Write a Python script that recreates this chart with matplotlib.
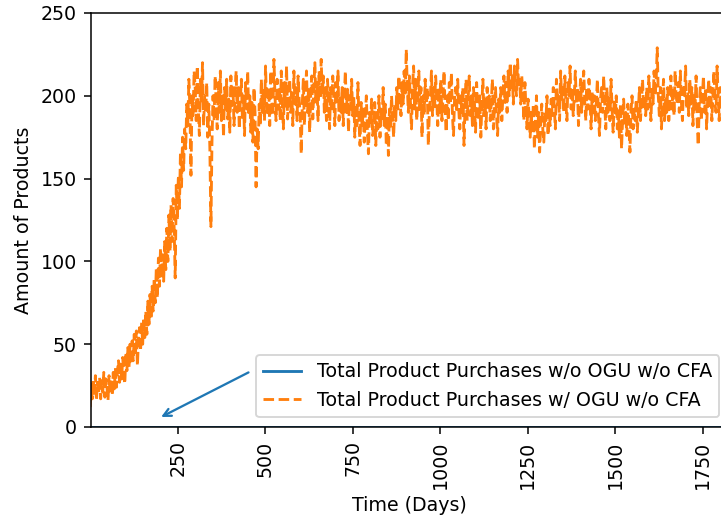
import numpy as np
import matplotlib
matplotlib.use("Agg")
import matplotlib.pyplot as plt

# purchases every 3 days (day 0 .. 1833)
with_ogu = [
    12, 26, 17, 29, 19, 31, 16, 27, 20, 30,
    17, 28, 21, 33, 18, 29, 24, 16, 31, 20,
    29, 19, 33, 23, 36, 24, 34, 40, 27, 38,
    29, 42, 32, 26, 45, 34, 48, 36, 50, 38,
    52, 40, 56, 43, 58, 37, 53, 60, 46, 63,
    50, 66, 54, 70, 56, 76, 62, 80, 65, 85,
    70, 90, 75, 96, 78, 102, 85, 108, 90, 104,
    88, 112, 95, 120, 100, 128, 106, 134, 112, 138,
    120, 90, 146, 125, 152, 132, 166, 145, 175, 155,
    180, 168, 195, 182, 210, 192, 152, 200, 188, 215,
    205, 185, 218, 192, 176, 210, 195, 220, 182, 200,
    190, 208, 175, 195, 168, 121, 172, 200, 185, 212,
    196, 180, 208, 190, 215, 185, 200, 175, 205, 192,
    210, 186, 198, 178, 212, 194, 205, 182, 200, 215,
    190, 205, 180, 198, 210, 185, 200, 176, 208, 192,
    215, 188, 200, 178, 196, 172, 205, 190, 145, 180,
    168, 195, 182, 210, 190, 205, 185, 218, 196, 188,
    205, 182, 215, 195, 188, 222, 200, 185, 210, 192,
    205, 185, 215, 196, 180, 208, 192, 218, 186, 200,
    210, 190, 202, 182, 215, 195, 205, 185, 212, 198,
    188, 165, 195, 210, 182, 200, 215, 190, 205, 178,
    200, 212, 186, 205, 220, 195, 208, 185, 215, 198,
    222, 200, 212, 190, 205, 185, 210, 196, 180, 205,
    190, 212, 198, 182, 208, 195, 215, 185, 200, 190,
    205, 182, 198, 215, 190, 204, 178, 200, 192, 210,
    188, 200, 175, 195, 182, 208, 185, 170, 196, 180,
    192, 172, 188, 200, 178, 165, 190, 182, 198, 176,
    185, 196, 170, 190, 180, 200, 175, 192, 185, 205,
    182, 195, 170, 188, 164, 192, 180, 200, 186, 175,
    195, 185, 205, 192, 212, 198, 188, 208, 195, 215,
    200, 228, 205, 190, 212, 196, 180, 205, 218, 192,
    210, 185, 198, 215, 190, 205, 175, 200, 188, 210,
    195, 205, 170, 190, 200, 215, 188, 205, 192, 212,
    198, 182, 205, 190, 210, 185, 200, 215, 192, 178,
    200, 185, 208, 195, 214, 188, 176, 198, 205, 190,
    210, 192, 180, 200, 188, 205, 170, 195, 210, 185,
    198, 212, 188, 200, 182, 205, 195, 178, 208, 192,
    185, 200, 175, 195, 210, 188, 198, 180, 205, 192,
    200, 185, 196, 210, 180, 192, 205, 188, 176, 198,
    190, 205, 185, 200, 212, 196, 208, 190, 215, 200,
    220, 205, 212, 195, 218, 208, 200, 222, 205, 210,
    195, 212, 200, 185, 208, 192, 180, 198, 188, 175,
    190, 178, 195, 168, 185, 200, 175, 190, 166, 182,
    195, 180, 172, 190, 185, 200, 176, 192, 182, 198,
    188, 205, 192, 180, 210, 195, 200, 185, 215, 198,
    205, 190, 212, 196, 185, 208, 200, 218, 192, 205,
    188, 200, 215, 195, 205, 182, 198, 210, 190, 205,
    215, 196, 185, 205, 192, 210, 198, 180, 202, 190,
    200, 185, 196, 210, 188, 176, 198, 205, 190, 212,
    195, 180, 205, 190, 200, 185, 210, 192, 178, 198,
    188, 200, 180, 192, 175, 195, 168, 185, 198, 182,
    190, 176, 195, 185, 166, 190, 200, 180, 192, 185,
    198, 178, 190, 205, 185, 196, 210, 192, 200, 188,
    205, 192, 212, 198, 185, 206, 195, 215, 200, 210,
    229, 200, 188, 205, 180, 196, 210, 185, 198, 190,
    205, 185, 198, 212, 192, 205, 188, 215, 200, 195,
    208, 190, 215, 196, 185, 205, 200, 218, 192, 202,
    188, 210, 195, 205, 182, 200, 192, 212, 185, 170,
    195, 205, 185, 200, 212, 190, 205, 180, 198, 210,
    192, 205, 185, 200, 215, 195, 190, 218, 200, 185,
    205, 192, 210, 188, 200, 220, 196, 185, 205, 198,
    210, 192,
]
days = np.arange(len(with_ogu)) * 3
without_ogu = [0] * len(with_ogu)

fig = plt.figure(figsize=(721 / 137, 522 / 137), dpi=137)
ax = fig.add_axes([90.5 / 721, 95 / 522, 638.5 / 721, 414 / 522])

ax.plot(days, without_ogu, color="C0", linestyle="-",
        label="Total Product Purchases w/o OGU w/o CFA")
ax.plot(days, with_ogu, color="C1", linestyle="--",
        label="Total Product Purchases w/ OGU w/o CFA")

ax.set_xlim(1, 1825)
ax.set_ylim(0, 250)
ax.set_xlabel("Time (Days)")
ax.set_ylabel("Amount of Products")
plt.setp(ax.get_xticklabels(), rotation=90)
ax.legend(loc="lower right")

ax.annotate("", xy=(193, 5), xytext=(462, 34),
            arrowprops=dict(arrowstyle="->", color="C0", lw=1.2))

fig.savefig("out.png", dpi=137)
